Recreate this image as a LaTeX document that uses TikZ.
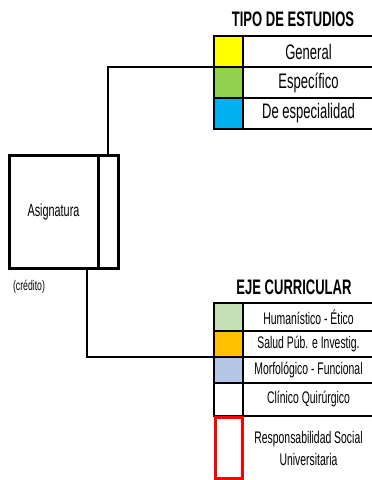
\documentclass[tikz,border=0pt]{standalone}
\usepackage{fontspec}
\setmainfont[FakeStretch=0.62]{Liberation Sans}
\definecolor{cyel}{HTML}{FFFF00}
\definecolor{cgrn}{HTML}{92D050}
\definecolor{cblu}{HTML}{00B0F0}
\definecolor{clgr}{HTML}{C5E0B4}
\definecolor{corg}{HTML}{FFC000}
\definecolor{clbl}{HTML}{B4C7E7}
\begin{document}
\begin{tikzpicture}[x=1pt,y=-1pt,
  cell/.style={draw, line width=1.8pt, minimum width=29pt, anchor=north west, inner sep=0pt, outer sep=0pt},
  lab/.style={draw, line width=1.8pt, minimum width=131pt, anchor=north west, inner sep=0pt, outer sep=0pt, align=center},
  bigf/.style={font=\fontsize{21}{22}\selectfont},
  smallf/.style={font=\fontsize{16.8}{18}\selectfont},
  ttl/.style={font=\bfseries\fontsize{21}{22}\selectfont},
  conn/.style={line width=1.8pt},
  thick box/.style={draw, line width=3pt, anchor=north west, inner sep=0pt, outer sep=0pt, minimum height=113pt}]
\useasboundingbox (0,0) rectangle (372,480);
% top table
\node[ttl] (t1) at (293,19) {TIPO DE ESTUDIOS};
\node[cell, fill=cyel, minimum height=31pt] (c1) at (214,36) {};
\node[cell, fill=cgrn, minimum height=31pt] (c2) at (214,67) {};
\node[cell, fill=cblu, minimum height=31pt] (c3) at (214,98) {};
\node[lab, bigf, minimum height=31pt] (l1) at (243,36) {General};
\node[lab, bigf, minimum height=31pt] (l2) at (243,67) {Específico};
\node[lab, bigf, minimum height=31pt] (l3) at (243,98) {De especialidad};
% bottom table
\node[ttl] (t2) at (294,287) {EJE CURRICULAR};
\node[cell, fill=clgr, minimum height=28pt] (d1) at (214,303) {};
\node[cell, fill=corg, minimum height=26pt] (d2) at (214,331) {};
\node[cell, fill=clbl, minimum height=26pt] (d3) at (214,357) {};
\node[cell, fill=white, minimum height=33pt] (d4) at (214,383) {};
\node[lab, smallf, minimum height=28pt] (m1) at (243,303) {Humanístico - Ético};
\node[lab, smallf, minimum height=26pt] (m2) at (243,331) {Salud Púb. e Investig.};
\node[lab, smallf, minimum height=26pt] (m3) at (243,357) {Morfológico - Funcional};
\node[lab, smallf, minimum height=33pt] (m4) at (243,383) {Clínico Quirúrgico};
\node[lab, smallf, draw=none, minimum height=63pt] (m5) at (243,417) {Responsabilidad Social\\[4pt]Universitaria};
\node[cell, draw=red, line width=2.6pt, minimum width=27pt, minimum height=61pt] (d5) at (215.3,417.3) {};
% asignatura
\node[thick box, minimum width=89pt, font=\fontsize{17.5}{19}\selectfont] (asig) at (9,155) {Asignatura};
\node[thick box, minimum width=20pt] (side) at (98,155) {};
\node[font=\fontsize{14}{15}\selectfont] (cred) at (29,287) {(crédito)};
% connectors
\draw[conn] (side.north) |- (c2.north west);
\draw[conn] ([xshift=-11pt]asig.south east) |- (d3.north west);
\end{tikzpicture}
\end{document}
